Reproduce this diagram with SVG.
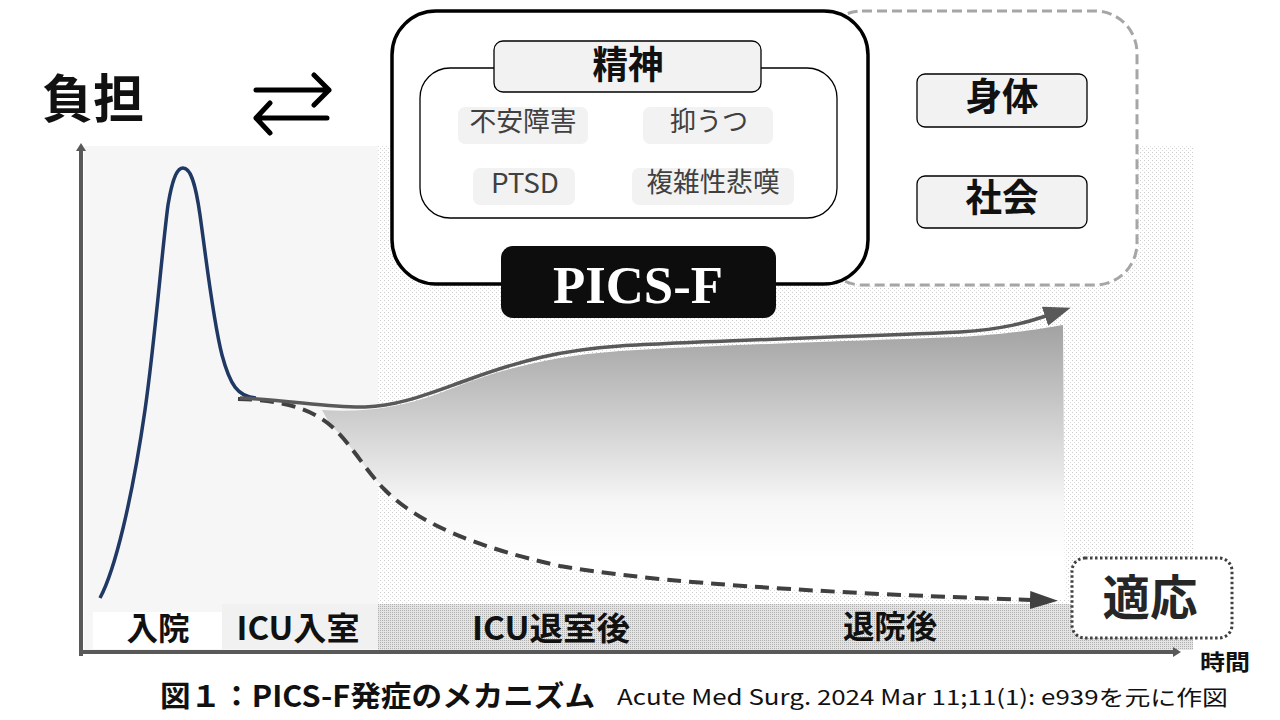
<svg xmlns="http://www.w3.org/2000/svg" width="1280" height="720" viewBox="0 0 1280 720">
<defs>
<style>
.jp{font-family:"Noto Sans CJK JP","Noto Sans",sans-serif;}
.b{font-weight:bold;}
.lbl{font-family:"Noto Sans CJK JP","Noto Sans",sans-serif;font-weight:bold;font-size:32px;fill:#111;text-anchor:middle;}
.sub{font-family:"Noto Sans CJK JP","Noto Sans",sans-serif;font-size:27px;fill:#404040;text-anchor:middle;}
.tag{fill:#f2f2f2;stroke:#000;stroke-width:1.3;}
.chip{fill:#f2f2f2;stroke:none;}
.head{font-family:"Noto Sans CJK JP","Noto Sans",sans-serif;font-weight:bold;font-size:38px;fill:#111;text-anchor:middle;}
</style>
<pattern id="dotsL" width="4" height="4" patternUnits="userSpaceOnUse">
<rect width="4" height="4" fill="#ffffff"/>
<rect x="0" y="0" width="1" height="1" fill="#cdcdcd"/>
<rect x="2" y="2" width="1" height="1" fill="#dcdcdc"/>
</pattern>
<pattern id="dotsD" width="2" height="2" patternUnits="userSpaceOnUse">
<rect width="2" height="2" fill="#e4e4e4"/>
<rect x="0" y="0" width="1" height="1" fill="#b0b0b0"/>
</pattern>
<linearGradient id="burden" gradientUnits="userSpaceOnUse" x1="0" y1="330" x2="0" y2="560">
<stop offset="0" stop-color="#a4a4a4"/>
<stop offset="0.75" stop-color="#f6f6f6"/>
<stop offset="1" stop-color="#ffffff"/>
</linearGradient>
<marker id="mSolid" markerUnits="userSpaceOnUse" markerWidth="30" markerHeight="22" refX="1" refY="10" orient="auto">
<path d="M0,0 L27,10 L0,20 Z" fill="#595959"/>
</marker>
<marker id="mDash" markerUnits="userSpaceOnUse" markerWidth="30" markerHeight="20" refX="1" refY="9" orient="auto">
<path d="M0,0 L28,9 L0,18 Z" fill="#404040"/>
</marker>
<marker id="mAxis" markerUnits="userSpaceOnUse" markerWidth="10" markerHeight="10" refX="1" refY="5" orient="auto">
<path d="M0,0 L8,5 L0,10 Z" fill="#595959"/>
</marker>
</defs>

<rect width="1280" height="720" fill="#ffffff"/>

<g id="background">
<rect x="84" y="146" width="294" height="506" fill="#f6f6f6"/>
<rect x="222" y="604" width="156" height="45" fill="#f1f1f1"/>
<rect x="93" y="612" width="129" height="37" fill="#ffffff"/>
<rect x="378" y="146" width="815" height="458" fill="url(#dotsL)"/>
<rect x="378" y="604" width="815" height="46" fill="url(#dotsD)"/>
</g>

<g id="burden-area">
<path d="M322,410 C360,413 400,408 440,393 C490,373 540,357 620,351 C720,345 850,341 960,337 C1010,334 1040,329 1063,325 L1065,600 C1000,599 950,597 880,594 C760,588 640,580 560,566 C480,548 420,526 385,490 C365,469 350,443 330,424 Z" fill="url(#burden)"/>
</g>

<g id="connectors">
<line x1="81" y1="656" x2="81" y2="150" stroke="#595959" stroke-width="4" marker-end="url(#mAxis)"/>
<line x1="79" y1="652" x2="1174" y2="652" stroke="#595959" stroke-width="4" marker-end="url(#mAxis)"/>
<path d="M100,598 C115,570 132,500 145,410 C155,340 162,250 168,205 C173,175 178,168 183,168 C190,168 195,180 200,215 C207,265 213,320 222,355 C230,385 238,397 256,398" fill="none" stroke="#1f3864" stroke-width="3.5"/>
<path d="M238,399 C280,400 310,408 330,425 C350,442 365,470 385,490 C420,525 480,548 560,566 C640,580 760,588 880,594 C950,597 1000,599 1031,600" fill="none" stroke="#404040" stroke-width="4" stroke-dasharray="14 8" marker-end="url(#mDash)"/>
<path d="M240,398 C290,400 330,408 365,407 C400,406 430,393 470,379 C520,361 560,350 620,346 C700,341 850,337 960,332 C1005,329 1028,322 1046,316" fill="none" stroke="#595959" stroke-width="3.5" marker-end="url(#mSolid)"/>
<path d="M256,90 H329 M314,75 L329,90 L314,105 M327,118 H256 M270,103 L256,118 L270,133" fill="none" stroke="#000" stroke-width="5" stroke-linecap="round" stroke-linejoin="round"/>
</g>

<g id="node-burden-title">
<text x="93" y="118" class="jp b" font-size="52" text-anchor="middle" textLength="102" lengthAdjust="spacingAndGlyphs" fill="#111">負担</text>
</g>

<g id="node-other-domains">
<rect x="820" y="11" width="317" height="274" rx="42" fill="#ffffff" stroke="#a6a6a6" stroke-width="3" stroke-dasharray="10 5"/>
</g>

<g id="node-physical">
<rect x="917" y="74" width="170" height="53" rx="8" class="tag"/>
<text x="1002" y="110" class="head" textLength="73" lengthAdjust="spacingAndGlyphs">身体</text>
</g>

<g id="node-social">
<rect x="917" y="176" width="170" height="52" rx="8" class="tag"/>
<text x="1002" y="211" class="head" textLength="73" lengthAdjust="spacingAndGlyphs">社会</text>
</g>

<g id="node-pics-f">
<rect x="392" y="11" width="476" height="273" rx="44" fill="#ffffff" stroke="#000" stroke-width="3.5"/>
<rect x="420" y="68" width="417" height="150" rx="30" fill="#ffffff" stroke="#000" stroke-width="1.3"/>
</g>

<g id="node-mental">
<rect x="494" y="41" width="267" height="51" rx="9" class="tag"/>
<text x="628" y="78" class="head" font-size="37" textLength="71" lengthAdjust="spacingAndGlyphs">精神</text>
</g>

<g id="node-anxiety">
<rect x="458" y="107" width="130" height="37" rx="7" class="chip"/>
<text x="523" y="131" class="sub" textLength="107" lengthAdjust="spacingAndGlyphs">不安障害</text>
</g>

<g id="node-depression">
<rect x="643" y="107" width="130" height="37" rx="7" class="chip"/>
<text x="709" y="131" class="sub" textLength="78" lengthAdjust="spacingAndGlyphs">抑うつ</text>
</g>

<g id="node-ptsd">
<rect x="473" y="168" width="102" height="37" rx="7" class="chip"/>
<text x="525" y="193" class="sub" font-size="28" textLength="68" lengthAdjust="spacingAndGlyphs">PTSD</text>
</g>

<g id="node-grief">
<rect x="632" y="168" width="162" height="37" rx="7" class="chip"/>
<text x="713" y="192" class="sub" textLength="133" lengthAdjust="spacingAndGlyphs">複雑性悲嘆</text>
</g>

<g id="node-pics-f-label">
<rect x="501" y="246" width="275" height="72" rx="12" fill="#0d0d0d"/>
<text x="638" y="303" font-family="'Liberation Serif','Times New Roman',serif" font-weight="bold" font-size="52" fill="#ffffff" text-anchor="middle" textLength="170" lengthAdjust="spacingAndGlyphs">PICS-F</text>
</g>

<g id="node-adaptation">
<rect x="1072" y="558" width="160" height="80" rx="13" fill="#ffffff" stroke="#404040" stroke-width="3" stroke-dasharray="2.5 2.5"/>
<text x="1150" y="615" class="jp b" font-size="48" fill="#262626" text-anchor="middle" textLength="95" lengthAdjust="spacingAndGlyphs">適応</text>
</g>

<g id="node-phase-labels">
<text x="158" y="640" class="lbl" textLength="63" lengthAdjust="spacingAndGlyphs">入院</text>
<text x="298" y="640" class="lbl" textLength="123" lengthAdjust="spacingAndGlyphs">ICU入室</text>
<text x="551" y="640" class="lbl" textLength="158" lengthAdjust="spacingAndGlyphs">ICU退室後</text>
<text x="890" y="638" class="lbl" textLength="94" lengthAdjust="spacingAndGlyphs">退院後</text>
</g>

<g id="node-time-label">
<text x="1225" y="670" class="jp b" font-size="22" fill="#111" text-anchor="middle" textLength="50" lengthAdjust="spacingAndGlyphs">時間</text>
</g>

<g id="node-caption">
<text x="160" y="707" class="jp b" font-size="29" fill="#111" textLength="435" lengthAdjust="spacingAndGlyphs">図１：PICS-F発症のメカニズム</text>
<text x="617" y="705" class="jp" font-size="21" fill="#111" textLength="611" lengthAdjust="spacingAndGlyphs">Acute Med Surg. 2024 Mar 11;11(1): e939を元に作図</text>
</g>
</svg>
